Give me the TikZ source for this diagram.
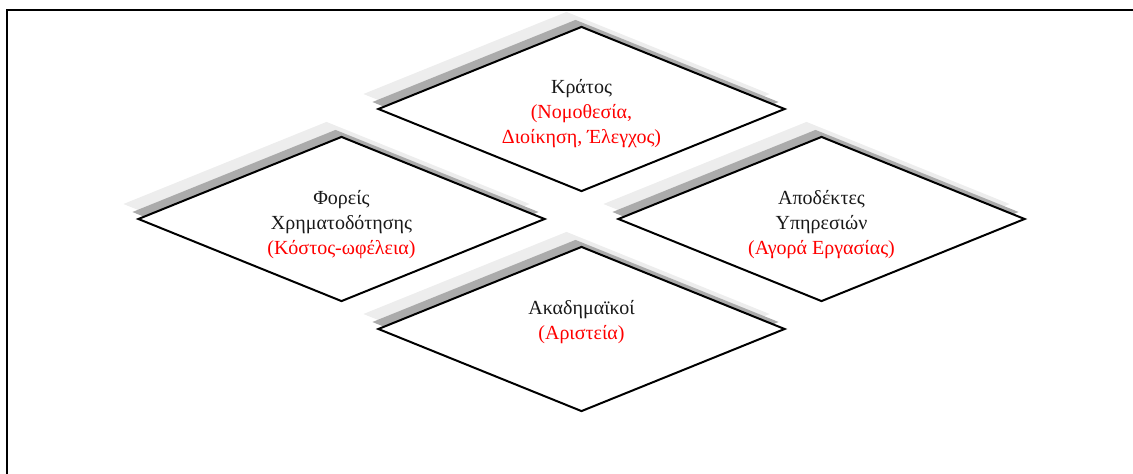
\documentclass[tikz,border=0pt]{standalone}
\usepackage{fontspec}
\setmainfont{Liberation Serif}
\usetikzlibrary{shapes.geometric,shadows}
\begin{document}
\begin{tikzpicture}[x=1pt,y=-1pt,
  rhombus/.style={diamond, draw=black, line width=2pt, fill=white,
    minimum width=407pt, minimum height=165pt, inner sep=0pt,
    general shadow={draw=none, fill=black!7, shadow xshift=-15pt, shadow yshift=15pt},
    general shadow={draw=none, fill=black!33, shadow xshift=-6pt, shadow yshift=7pt}},
  lbl/.style={anchor=base, inner sep=0pt, font=\fontsize{20}{24}\selectfont, text=black!90},
  note/.style={lbl, text=red}]
\useasboundingbox (0,0) rectangle (1133,474);

% frame: top and left rules
\draw[line width=2pt] (7,474) -- (7,10) -- (1133,10);

% the four stakeholder diamonds
\node[rhombus] (state)     at (581.5,109) {};
\node[rhombus] (funders)   at (341.5,219) {};
\node[rhombus] (clients)   at (821.5,219) {};
\node[rhombus] (academics) at (581.5,329) {};

% State
\node[lbl]  (state1) at (581.5,93.5)  {Κράτος};
\node[note] (state2) at (581.5,118.5) {(Νομοθεσία,};
\node[note] (state3) at (581.5,143.5) {Διοίκηση, Έλεγχος)};

% Funding bodies
\node[lbl]  (funders1) at (341.5,204) {Φορείς};
\node[lbl]  (funders2) at (341.5,229) {Χρηματοδότησης};
\node[note] (funders3) at (341.5,254) {(Κόστος-ωφέλεια)};

% Service recipients
\node[lbl]  (clients1) at (821.5,204) {Αποδέκτες};
\node[lbl]  (clients2) at (821.5,229) {Υπηρεσιών};
\node[note] (clients3) at (821.5,254) {(Αγορά Εργασίας)};

% Academics
\node[lbl]  (academics1) at (581.5,314) {Ακαδημαϊκοί};
\node[note] (academics2) at (581.5,339) {(Αριστεία)};
\end{tikzpicture}
\end{document}
